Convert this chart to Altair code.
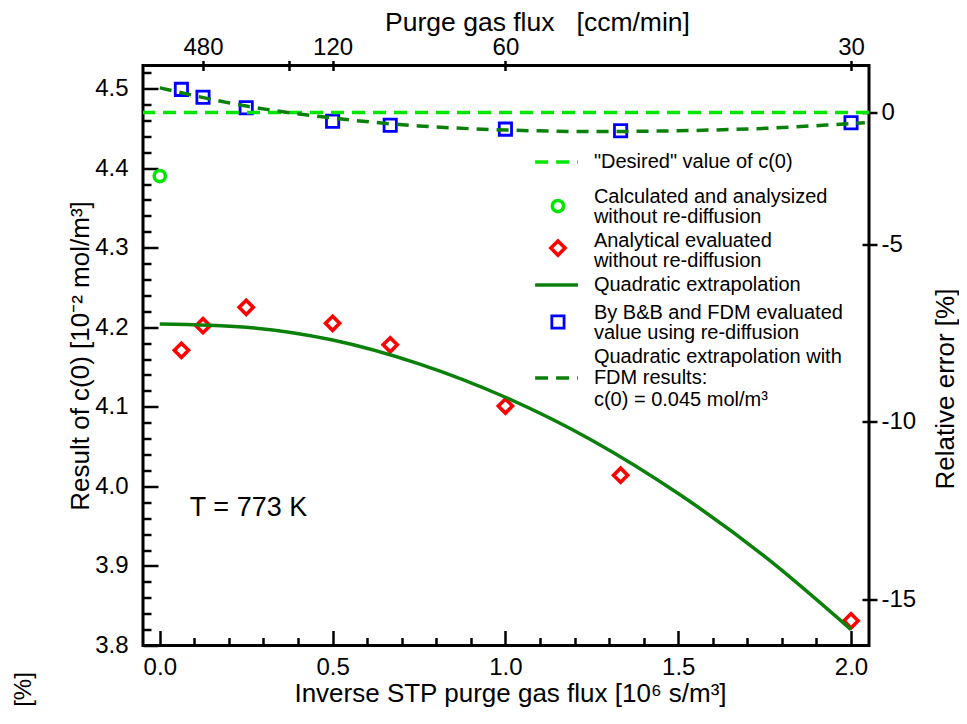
import altair as alt
import pandas as pd

# ---------------- data ----------------
inv_flux = [0.0625, 0.125, 0.25, 0.5, 0.6667, 1.0, 1.3333, 2.0]
c_fdm = [4.499, 4.489, 4.476, 4.459, 4.454, 4.449, 4.447, 4.457]
c_analytic = [4.171, 4.202, 4.225, 4.205, 4.178, 4.101, 4.014, 3.831]
calc_x = [0.0]
calc_c = [4.390]
desired_c = [4.4698]

quad_x = [0.0, 0.25, 0.5, 0.75, 1.0, 1.25, 1.5, 1.75, 2.0]
quad_c = [4.204, 4.200, 4.184, 4.154, 4.112, 4.058, 3.991, 3.912, 3.820]

fdm_quad_x = [0.0, 0.25, 0.5, 0.75, 1.0, 1.25, 1.5, 1.75, 2.0, 2.04]
fdm_quad_c = [4.501, 4.478, 4.463, 4.453, 4.448, 4.446, 4.447, 4.450, 4.456, 4.457]

# axis ticks / labels
bottom_ticks = [round(0.1 * i, 1) for i in range(21)]
left_ticks = [round(3.80 + 0.02 * i, 2) for i in range(37)]
top_tick_values = [0.125, 0.375, 0.5, 1.0, 2.0]
top_tick_labels = ["480", "", "120", "60", "30"]
right_tick_values = [4.4698, 4.3046, 4.0815, 3.8584]
right_tick_labels = ["0", "-5", "-10", "-15"]

# legend content
legend_lines = ['"Desired" value of c(0)',
                "Calculated and analysized", "\u00a0without re-diffusion",
                "Analytical evaluated", "\u00a0without re-diffusion",
                "Quadratic extrapolation",
                "By B&B and FDM evaluated", "\u00a0value using re-diffusion",
                "Quadratic extrapolation with", "\u00a0FDM results:",
                "\u00a0c(0) = 0.045 mol/m\u00b3"]
legend_line_y = [4.4076, 4.3636, 4.3385, 4.3083, 4.2832, 4.2530,
                 4.2178, 4.1927, 4.1626, 4.1362, 4.1085]
legend_text_x = 1.256
legend_sym_x = [1.086, 1.152, 1.210]
legend_sym_y = {"desired": 4.4076, "circle": 4.3523, "diamond": 4.2995,
                "solid": 4.2530, "square": 4.2065, "dashed": 4.1362}

# ---------------- styling ----------------
AX_FONT = "Liberation Sans Narrow, Liberation Sans, Arial, sans-serif"
TXT_FONT = "Liberation Sans, Arial, sans-serif"
LIGHT_GREEN = "#00e600"
DARK_GREEN = "#0b800b"
BLUE = "#0000ff"
RED = "#ff0000"

XDOM = [-0.0486, 2.052]
YDOM = [3.8, 4.529]
W, H = 726, 580


def xsc():
    return alt.Scale(domain=XDOM, nice=False, zero=False)


def ysc():
    return alt.Scale(domain=YDOM, nice=False, zero=False)


def lookup_expr(values, labels):
    expr = "''"
    for v, l in reversed(list(zip(values, labels))):
        expr = f"abs(datum.value - {v}) < 1e-6 ? '{l}' : ({expr})"
    return expr


major_x = "abs(datum.value*2 - round(datum.value*2)) < 1e-6"
major_y = "abs(datum.value*10 - round(datum.value*10)) < 1e-6"

axis_bottom = alt.Axis(
    orient="bottom", values=bottom_ticks, title="Inverse STP purge gas flux [10\u2076 s/m\u00b3]",
    labelExpr=f"{major_x} ? format(datum.value, '.1f') : ''",
    tickSize=alt.ExprRef(expr=f"{major_x} ? -15 : -8"),
    labelPadding=25, titleX=W / 2 + 4, titleY=48, titleBaseline="middle",
)
axis_left = alt.Axis(
    orient="left", values=left_ticks, title="Result of c(0) [10\u207b\u00b2 mol/m\u00b3]",
    labelExpr=f"{major_y} ? format(datum.value, '.1f') : ''",
    tickSize=alt.ExprRef(expr=f"{major_y} ? -15 : -8"),
    labelPadding=30, titleX=-63, titleY=H / 2, titleAngle=270, titleBaseline="middle",
)
axis_top = alt.Axis(
    orient="top", values=top_tick_values, title="Purge gas flux\u00a0\u00a0\u00a0[ccm/min]",
    labelExpr=lookup_expr(top_tick_values, top_tick_labels),
    tickSize=10, offset=-5, labelPadding=1,
    titleX=394, titleY=-48, titleBaseline="middle", titleFontSize=26.5,
)
axis_right = alt.Axis(
    orient="right", values=right_tick_values, title="Relative error [%]",
    labelExpr=lookup_expr(right_tick_values, right_tick_labels),
    tickSize=15, offset=-7, labelPadding=4,
    titleX=83, titleY=323, titleAngle=270, titleBaseline="middle",
)

# ---------------- data frames ----------------
df_fdm = pd.DataFrame({"x": inv_flux, "y": c_fdm})
df_ana = pd.DataFrame({"x": inv_flux, "y": c_analytic})
df_calc = pd.DataFrame({"x": calc_x, "y": calc_c})
df_des = pd.DataFrame({"y": desired_c})
df_quad = pd.DataFrame({"x": quad_x, "y": quad_c})
df_fquad = pd.DataFrame({"x": fdm_quad_x, "y": fdm_quad_c})
df_leg_txt = pd.DataFrame({"x": [legend_text_x] * len(legend_lines), "y": legend_line_y,
                           "t": legend_lines})
df_leg_lines = pd.DataFrame({
    "x": [legend_sym_x[0]] * 3, "x2": [legend_sym_x[2]] * 3,
    "y": [legend_sym_y["desired"], legend_sym_y["solid"], legend_sym_y["dashed"]],
    "k": ["desired", "solid", "dashed"]})
df_leg_pts = pd.DataFrame({
    "x": [legend_sym_x[1]] * 3,
    "y": [legend_sym_y["circle"], legend_sym_y["diamond"], legend_sym_y["square"]],
    "k": ["circle", "diamond", "square"]})

X = lambda axis=None: alt.X("x:Q", scale=xsc(), axis=axis)
Y = lambda axis=None: alt.Y("y:Q", scale=ysc(), axis=axis)

SQ = dict(shape="square", filled=False, size=150, strokeWidth=2.8, color=BLUE, opacity=1)
DM = dict(shape="diamond", filled=False, size=200, strokeWidth=3.6, color=RED, opacity=1)
CI = dict(shape="circle", filled=False, size=125, strokeWidth=3.6, color=LIGHT_GREEN, opacity=1)

squares = alt.Chart(df_fdm).mark_point(**SQ).encode(x=X(axis_bottom), y=Y(axis_left))
diamonds = alt.Chart(df_ana).mark_point(**DM).encode(x=X(axis_top), y=Y(axis_right))
circle = alt.Chart(df_calc).mark_point(**CI).encode(x=X(), y=Y())

desired = alt.Chart(df_des).mark_rule(
    color=LIGHT_GREEN, strokeWidth=3.5, strokeDash=[13, 8]
).encode(y=Y())

quad = alt.Chart(df_quad).mark_line(
    color=DARK_GREEN, strokeWidth=3.5, interpolate="monotone"
).encode(x=X(), y=Y())

fquad = alt.Chart(df_fquad).mark_line(
    color=DARK_GREEN, strokeWidth=3.5, strokeDash=[12, 8], interpolate="monotone"
).encode(x=X(), y=Y())

leg_desired = alt.Chart(df_leg_lines[df_leg_lines.k == "desired"]).mark_rule(
    color=LIGHT_GREEN, strokeWidth=3.5, strokeDash=[13, 8]
).encode(x=X(), x2="x2:Q", y=Y())
leg_solid = alt.Chart(df_leg_lines[df_leg_lines.k == "solid"]).mark_rule(
    color=DARK_GREEN, strokeWidth=3.5
).encode(x=X(), x2="x2:Q", y=Y())
leg_dashed = alt.Chart(df_leg_lines[df_leg_lines.k == "dashed"]).mark_rule(
    color=DARK_GREEN, strokeWidth=3.5, strokeDash=[13, 8]
).encode(x=X(), x2="x2:Q", y=Y())

leg_circle = alt.Chart(df_leg_pts[df_leg_pts.k == "circle"]).mark_point(**CI).encode(x=X(), y=Y())
leg_diamond = alt.Chart(df_leg_pts[df_leg_pts.k == "diamond"]).mark_point(**DM).encode(x=X(), y=Y())
leg_square = alt.Chart(df_leg_pts[df_leg_pts.k == "square"]).mark_point(**SQ).encode(x=X(), y=Y())

leg_text = alt.Chart(df_leg_txt).mark_text(
    align="left", baseline="middle", font=TXT_FONT, fontSize=20, color="black"
).encode(x=X(), y=Y(), text="t:N")

temp_text = alt.Chart(pd.DataFrame({"x": [0.087], "y": [3.973], "t": ["T = 773 K"]})).mark_text(
    align="left", baseline="middle", font=TXT_FONT, fontSize=27, color="black"
).encode(x=X(), y=Y(), text="t:N")

pct_text = alt.Chart(pd.DataFrame({"t": ["[%]"]})).mark_text(
    align="center", baseline="middle", font=AX_FONT, fontSize=24, color="black", angle=270
).encode(x=alt.value(-119), y=alt.value(624), text="t:N")

chart = alt.layer(
    squares, diamonds, desired, fquad, quad, circle,
    leg_desired, leg_solid, leg_dashed, leg_circle, leg_diamond, leg_square,
    leg_text, temp_text, pct_text,
).resolve_axis(x="independent", y="independent").properties(
    width=W, height=H,
    autosize=alt.AutoSizeParams(type="none"),
    padding={"left": 135, "top": 57.5, "right": 90, "bottom": 70},
).configure_view(
    stroke="black", strokeWidth=3
).configure_axis(
    grid=False, domain=False, labelFont=AX_FONT, labelFontSize=24, labelColor="black",
    titleFont=AX_FONT, titleFontSize=26, titleFontWeight="normal", titleColor="black",
    tickColor="black", tickWidth=2.5, labelOverlap=False, labelFlush=False, labelBound=False,
)

chart.save("out.html", embed_options={"renderer": "svg", "actions": False})
